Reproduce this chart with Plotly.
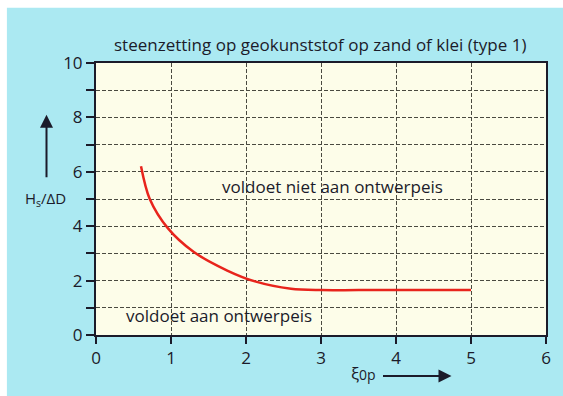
import plotly.graph_objects as go

# Stability limit for block revetment on geotextile over sand or clay (type 1)
xi_op = [0.6, 0.715, 0.96, 1.3, 1.75, 2.12, 2.6, 3.0, 3.5, 5.0]
hs_dd = [6.2, 5.01, 3.92, 3.06, 2.37, 1.97, 1.7, 1.65, 1.65, 1.65]

y_ticks = list(range(0, 11))
y_ticktext = [str(v) if v % 2 == 0 else "" for v in y_ticks]
x_ticks = list(range(0, 7))

title_text = "steenzetting op geokunststof op zand of klei (type 1)"
label_fail = "voldoet niet aan ontwerpeis"
label_ok = "voldoet aan ontwerpeis"

FONT = "Open Sans"
INK = "#1b1b2a"
BG = "#abe9f2"

fig = go.Figure()
fig.add_trace(go.Scatter(
    x=xi_op, y=hs_dd, mode="lines",
    line=dict(color="#e8241c", width=2.5, shape="spline", smoothing=0.9),
    hoverinfo="skip", showlegend=False,
))

axis_common = dict(
    showline=True, linecolor=INK, linewidth=2, mirror=True,
    showgrid=True, gridcolor="#4a4a40", gridwidth=1, griddash="4px,2px",
    zeroline=False, ticks="outside", tickcolor=INK, tickwidth=1.5,
    tickfont=dict(family=FONT, size=17, color=INK),
)

fig.update_xaxes(range=[0, 6], tickvals=x_ticks, ticklen=7, **axis_common)
fig.update_yaxes(range=[0, 10], tickvals=y_ticks, ticktext=y_ticktext, ticklen=8, **axis_common)

annotations = [
    dict(text=title_text, xref="paper", yref="paper", x=0.497, y=1.117,
         showarrow=False, font=dict(family=FONT, size=17, color=INK)),
    dict(text=label_fail, xref="x", yref="y", x=3.15, y=5.45,
         showarrow=False, font=dict(family=FONT, size=17, color=INK)),
    dict(text=label_ok, xref="x", yref="y", x=1.64, y=0.72,
         showarrow=False, font=dict(family=FONT, size=17, color=INK)),
    dict(text="H<sub>s</sub>/ΔD", xref="paper", yref="paper", x=-0.163, y=0.5,
         showarrow=False, font=dict(family=FONT, size=15, color=INK)),
    dict(text="ξ<span style='font-size:14px'>0p</span>", xref="paper", yref="paper",
         x=0.595, y=-0.19, showarrow=False, font=dict(family=FONT, size=17, color=INK)),
    # upward arrow beside the y label
    dict(text="", xref="paper", yref="paper", x=-0.11, y=0.81,
         showarrow=True, ax=0, ay=64, arrowhead=2, arrowsize=1.3,
         arrowwidth=2, arrowcolor=INK),
    # rightward arrow beside the x label
    dict(text="", xref="paper", yref="paper", x=0.79, y=-0.151,
         showarrow=True, ax=-70, ay=0, arrowhead=2, arrowsize=1.3,
         arrowwidth=2, arrowcolor=INK),
]

# thin white strip along the top and left edges of the sheet
shapes = [
    dict(type="rect", xref="paper", yref="paper", x0=-0.22, x1=1.05,
         y0=1.203, y1=1.25, fillcolor="white", line=dict(width=0), layer="below"),
    dict(type="rect", xref="paper", yref="paper", x0=-0.22, x1=-0.198,
         y0=-0.3, y1=1.25, fillcolor="white", line=dict(width=0), layer="below"),
]

fig.update_layout(
    width=563, height=396,
    margin=dict(l=96, r=12, t=63, b=61),
    paper_bgcolor=BG, plot_bgcolor="#fdfde9",
    annotations=annotations, shapes=shapes,
    font=dict(family=FONT, color=INK),
)

fig.write_html("out.html")
